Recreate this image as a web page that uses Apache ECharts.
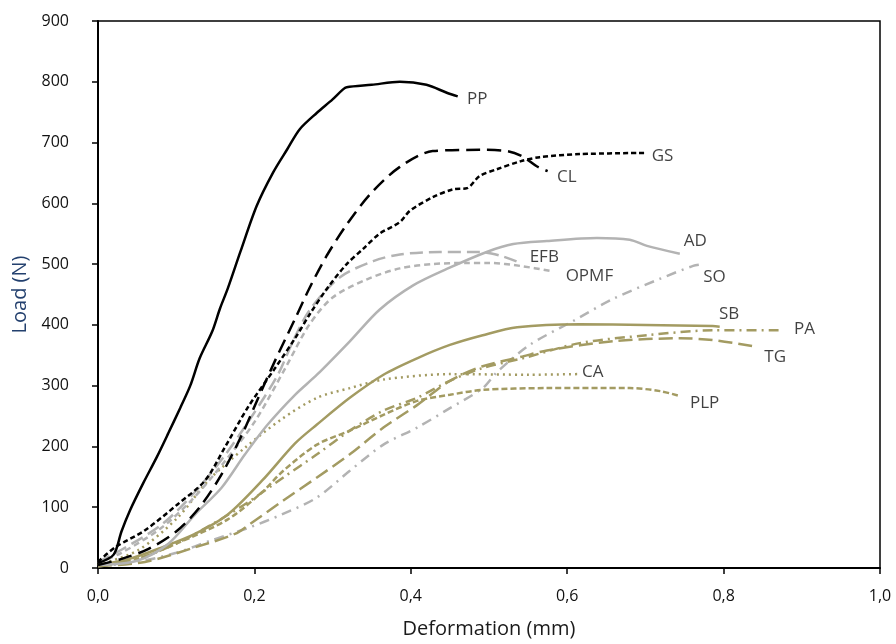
<!DOCTYPE html>
<html><head><meta charset="utf-8">
<script src="https://cdn.jsdelivr.net/npm/echarts@6/dist/echarts.min.js"></script>
<style>html,body{margin:0;padding:0;background:#fff}#c{width:896px;height:644px}</style>
</head><body><div id="c"></div>
<script>
// ---- data (Deformation mm, Load N) ----
const ppX = [0, 0.02, 0.03, 0.041, 0.058, 0.075, 0.09, 0.105, 0.118, 0.13, 0.146, 0.156, 0.166, 0.182, 0.203, 0.224, 0.242, 0.258, 0.28, 0.30, 0.313, 0.318, 0.35, 0.386, 0.42, 0.446, 0.46];
const ppY = [8, 22, 60, 95, 140, 182, 222, 263, 300, 345, 389, 427, 460, 520, 596, 651, 689, 722, 749, 771, 787, 791, 795, 800, 795, 782, 776];
const clX = [0, 0.03, 0.064, 0.10, 0.13, 0.158, 0.184, 0.205, 0.226, 0.252, 0.271, 0.293, 0.318, 0.348, 0.386, 0.428, 0.488, 0.523, 0.543, 0.561, 0.575];
const clY = [5, 15, 31, 60, 100, 154, 219, 280, 340, 410, 462, 515, 565, 615, 660, 686, 688, 686, 677, 661, 653];
const gsX = [0, 0.022, 0.06, 0.102, 0.137, 0.162, 0.192, 0.226, 0.252, 0.271, 0.293, 0.318, 0.339, 0.36, 0.386, 0.399, 0.428, 0.454, 0.472, 0.488, 0.51, 0.54, 0.565, 0.616, 0.702];
const gsY = [10, 34, 62, 105, 144, 198, 265, 328, 378, 418, 460, 500, 525, 550, 569, 588, 610, 623, 625, 645, 656, 669, 676, 681, 683];
const efbX = [0, 0.03, 0.082, 0.124, 0.162, 0.197, 0.23, 0.25, 0.271, 0.309, 0.352, 0.386, 0.437, 0.488, 0.514, 0.536];
const efbY = [10, 30, 72, 125, 185, 250, 318, 375, 425, 478, 505, 516, 520, 520, 514, 504];
const opmfX = [0, 0.03, 0.08, 0.12, 0.16, 0.2, 0.24, 0.27, 0.30, 0.344, 0.386, 0.428, 0.47, 0.50, 0.54, 0.582];
const opmfY = [8, 25, 65, 112, 172, 240, 330, 400, 445, 475, 493, 500, 502, 502, 497, 488];
const adX = [0, 0.05, 0.09, 0.124, 0.158, 0.188, 0.217, 0.252, 0.28, 0.322, 0.36, 0.403, 0.446, 0.497, 0.531, 0.574, 0.638, 0.68, 0.702, 0.744];
const adY = [5, 12, 40, 88, 132, 187, 236, 285, 318, 373, 425, 465, 492, 520, 533, 538, 543, 540, 530, 517];
const soX = [0, 0.05, 0.1, 0.146, 0.19, 0.235, 0.28, 0.322, 0.365, 0.408, 0.45, 0.492, 0.51, 0.552, 0.607, 0.659, 0.719, 0.761, 0.775];
const soY = [3, 10, 25, 46, 65, 88, 116, 160, 203, 231, 263, 296, 322, 367, 406, 443, 476, 497, 500];
const sbX = [0, 0.04, 0.082, 0.124, 0.166, 0.21, 0.252, 0.28, 0.322, 0.365, 0.408, 0.45, 0.492, 0.536, 0.616, 0.7, 0.786, 0.795];
const sbY = [5, 15, 34, 56, 88, 144, 205, 236, 280, 318, 345, 367, 383, 396, 401, 400, 398, 397];
const caX = [0, 0.051, 0.102, 0.141, 0.188, 0.235, 0.28, 0.322, 0.365, 0.45, 0.552, 0.613];
const caY = [5, 29, 83, 144, 198, 245, 280, 296, 310, 319, 318, 319];
const plpX = [0, 0.05, 0.1, 0.166, 0.21, 0.237, 0.28, 0.322, 0.365, 0.408, 0.45, 0.492, 0.574, 0.68, 0.719, 0.744];
const plpY = [5, 15, 40, 80, 125, 160, 203, 226, 252, 275, 285, 293, 296, 296, 291, 283];
const paX = [0, 0.05, 0.1, 0.15, 0.194, 0.237, 0.28, 0.322, 0.365, 0.408, 0.45, 0.492, 0.543, 0.616, 0.702, 0.786, 0.875];
const paY = [5, 15, 40, 75, 110, 149, 187, 226, 259, 280, 308, 329, 345, 370, 383, 391, 391];
const tgX = [0, 0.06, 0.124, 0.175, 0.194, 0.237, 0.28, 0.322, 0.365, 0.408, 0.45, 0.492, 0.543, 0.574, 0.659, 0.744, 0.786, 0.838];
const tgY = [3, 10, 34, 56, 72, 111, 149, 187, 231, 268, 308, 332, 348, 358, 373, 378, 375, 365];

// curve label names and their anchor points (data units)
const labelNames = ['PP', 'GS', 'CL', 'AD', 'EFB', 'OPMF', 'SO', 'SB', 'PA', 'TG', 'CA', 'PLP'];
const labelX = [0.472, 0.708, 0.587, 0.749, 0.552, 0.598, 0.774, 0.794, 0.89, 0.852, 0.619, 0.757];
const labelY = [771, 677, 643, 538, 512, 481, 479, 417, 393, 347, 322, 272];

const xTicks = ['0,0', '0,2', '0,4', '0,6', '0,8', '1,0'];

// ---- styles ----
const BLACK = '#000000', GRAY = '#b3b3b3', OLIVE = '#a39b62';
const FONT = 'Open Sans';
function zip(xs, ys) { return xs.map((x, i) => [x, ys[i]]); }
function line(name, xs, ys, color, type, width) {
  return {
    name, type: 'line', data: zip(xs, ys), showSymbol: false, symbol: 'none',
    smooth: 0.3, silent: true,
    lineStyle: { color, width: width || 2.5, type, cap: 'butt' }
  };
}
const series = [
  line('SO', soX, soY, GRAY, [10, 6, 2, 6]),
  line('TG', tgX, tgY, OLIVE, [14, 6]),
  line('PA', paX, paY, OLIVE, [10, 5, 2, 5]),
  line('PLP', plpX, plpY, OLIVE, [6, 3]),
  line('CA', caX, caY, OLIVE, [2, 4], 2.5),
  line('SB', sbX, sbY, OLIVE, 'solid', 2.5),
  line('AD', adX, adY, GRAY, 'solid', 2.5),
  line('OPMF', opmfX, opmfY, GRAY, [6, 4]),
  line('EFB', efbX, efbY, GRAY, [13, 6]),
  line('GS', gsX, gsY, BLACK, [5, 3]),
  line('CL', clX, clY, BLACK, [14, 7]),
  line('PP', ppX, ppY, BLACK, 'solid', 2.5),
  {
    type: 'scatter', symbolSize: 0, silent: true,
    data: labelNames.map((n, i) => ({ name: n, value: [labelX[i], labelY[i]] })),
    label: {
      show: true, position: 'right', distance: 0, formatter: p => p.name,
      color: '#111', fontSize: 17, fontFamily: FONT
    }
  }
];

const chart = echarts.init(document.getElementById('c'), null, { renderer: 'canvas' });
chart.setOption({
  animation: false,
  backgroundColor: '#ffffff',
  grid: { left: 98, right: 16, top: 21, bottom: 73, show: true, borderColor: '#000', borderWidth: 1.5 },
  xAxis: {
    type: 'value', min: 0, max: 1, interval: 0.2,
    name: 'Deformation (mm)', nameLocation: 'middle', nameGap: 51,
    nameTextStyle: { color: '#1a1a1a', fontSize: 20, fontFamily: FONT },
    axisLine: { show: true, onZero: false, lineStyle: { color: '#000', width: 2 } },
    axisTick: { show: true, inside: false, length: 6, lineStyle: { color: '#000', width: 1.5 } },
    axisLabel: { margin: 20, color: '#111', fontSize: 16, fontFamily: FONT,
      formatter: v => xTicks[Math.round(v / 0.2)] },
    splitLine: { show: false }
  },
  yAxis: {
    type: 'value', min: 0, max: 900, interval: 100,
    name: 'Load (N)', nameLocation: 'middle', nameGap: 64, nameRotate: 90,
    nameTextStyle: { color: '#23406e', fontSize: 20, fontFamily: FONT },
    axisLine: { show: true, onZero: false, lineStyle: { color: '#000', width: 2 } },
    axisTick: { show: true, inside: false, length: 6, lineStyle: { color: '#000', width: 1.5 } },
    axisLabel: { margin: 29, color: '#111', fontSize: 16, fontFamily: FONT },
    splitLine: { show: false }
  },
  series
});
</script></body></html>
